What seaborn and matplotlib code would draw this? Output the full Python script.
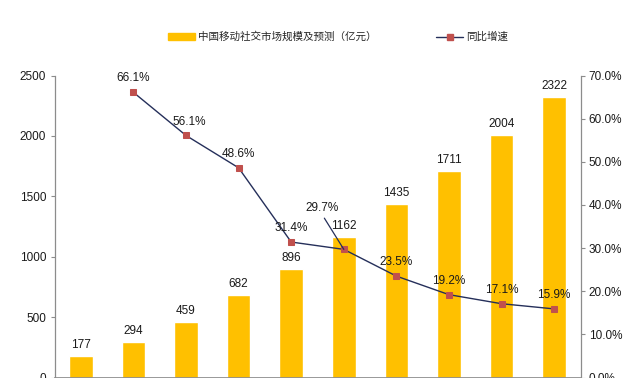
import matplotlib
matplotlib.use("Agg")
import matplotlib.pyplot as plt
import seaborn as sns
import pandas as pd
from matplotlib.patches import Patch
from matplotlib.lines import Line2D

years = ["2012", "2013", "2014", "2015", "2016", "2017", "2018", "2019", "2020", "2021"]
market_size = [177, 294, 459, 682, 896, 1162, 1435, 1711, 2004, 2322]
growth_years = ["2013", "2014", "2015", "2016", "2017", "2018", "2019", "2020", "2021"]
growth_rate = [66.1, 56.1, 48.6, 31.4, 29.7, 23.5, 19.2, 17.1, 15.9]
left_ticks = [0, 500, 1000, 1500, 2000, 2500]
right_ticks = [0, 10, 20, 30, 40, 50, 60, 70]
bar_label = "中国移动社交市场规模及预测（亿元）"
line_label = "同比增速"

sns.set_theme(style="white")
plt.rcParams["font.family"] = ["Liberation Sans", "Noto Sans CJK SC", "DejaVu Sans"]

BAR = "#FFC000"
LINE = "#252F5A"
MARK = "#C0504D"
SPINE = "#8C8C8C"
TXT = "#1A1A1A"

fig = plt.figure(figsize=(6.4, 3.78), dpi=100)
ax = fig.add_axes([54.5 / 640, 0.5 / 378, (580.5 - 54.5) / 640, (377.5 - 75.5) / 378])

df = pd.DataFrame({"year": years, "size": market_size})
sns.barplot(data=df, x="year", y="size", color=BAR, width=0.45, saturation=1, ax=ax)
ax.set_xlim(-0.5, len(years) - 0.5)
ax.set_ylim(0, 2500)
ax.set_yticks(left_ticks)
ax.set_yticklabels([str(t) for t in left_ticks])
ax.set_xlabel("")
ax.set_ylabel("")
ax.set_xticks([])

ax2 = ax.twinx()
gx = [years.index(y) for y in growth_years]
gdf = pd.DataFrame({"x": gx, "g": growth_rate})
sns.lineplot(data=gdf, x="x", y="g", ax=ax2, color=LINE, linewidth=1.0,
             marker="s", markersize=4.5, markerfacecolor=MARK, markeredgecolor=MARK)
ax2.set_ylim(0, 70)
ax2.set_yticks(right_ticks)
ax2.set_yticklabels([f"{t:.1f}%" for t in right_ticks])
ax2.set_ylabel("")
ax2.set_xlim(-0.5, len(years) - 0.5)

for a in (ax, ax2):
    for s in ("top", "bottom"):
        a.spines[s].set_visible(False)
    a.tick_params(axis="y", labelsize=8.5, colors=TXT, length=3, width=0.8,
                  color=SPINE, direction="out", pad=3)
ax.spines["left"].set_color(SPINE)
ax.spines["right"].set_visible(False)
ax2.spines["left"].set_visible(False)
ax2.spines["right"].set_color(SPINE)
ax.spines["left"].set_linewidth(0.9)
ax2.spines["right"].set_linewidth(0.9)
ax2.spines["bottom"].set_visible(True)
ax2.spines["bottom"].set_color(SPINE)

for i, v in enumerate(market_size):
    ax.annotate(str(v), (i, v), xytext=(0, 8), textcoords="offset points",
                ha="center", va="center", fontsize=8.5, color=TXT)

for x, g in zip(gx, growth_rate):
    if g == 29.7:
        ax2.annotate(f"{g}%", (x, g), xytext=(-16, 30), textcoords="offset points",
                     ha="center", va="center", fontsize=8.5, color=TXT,
                     arrowprops=dict(arrowstyle="-", color=LINE, lw=0.9,
                                     relpos=(0.5, 0.0), shrinkA=1, shrinkB=0))
    else:
        dx = 2 if g == 56.1 else 0
        ax2.annotate(f"{g}%", (x, g), xytext=(dx, 10), textcoords="offset points",
                     ha="center", va="center", fontsize=8.5, color=TXT)

handles = [Patch(facecolor=BAR, edgecolor=BAR),
           Line2D([0], [0], color=LINE, lw=1.0, marker="s", markersize=4,
                  markerfacecolor=MARK, markeredgecolor=MARK)]
fig.legend(handles, [bar_label, line_label], loc="center",
           bbox_to_anchor=(338 / 640, 1 - 37 / 378), ncol=2, frameon=False,
           fontsize=7.6, handlelength=2.6, handleheight=0.7, handletextpad=0.3,
           columnspacing=5.6)

fig.savefig("out.png", dpi=100)
